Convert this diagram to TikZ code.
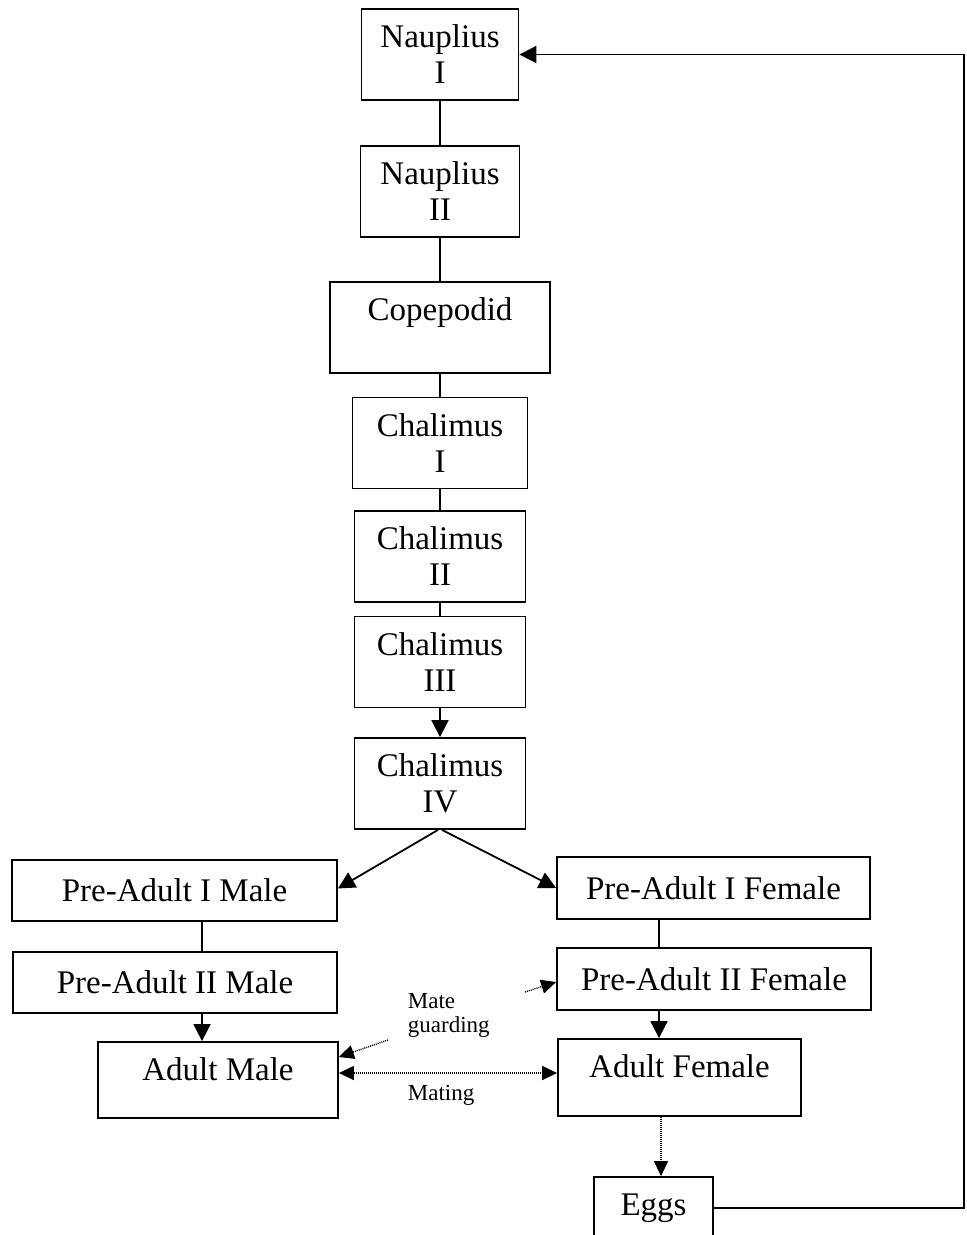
\documentclass[tikz,border=0pt]{standalone}
\usepackage{fontspec}
\setmainfont{Liberation Serif}
\usetikzlibrary{arrows.meta}
\begin{document}
\begin{tikzpicture}[x=1pt,y=-1pt,line width=1.8pt,
  stage/.style={draw,align=center,inner sep=4pt,minimum height=91pt,font=\fontsize{33}{36}\selectfont},
  note/.style={align=left,inner sep=0pt,font=\fontsize{23}{24}\selectfont},
  >={Triangle[length=17pt,width=17pt]},
  dotarr/.style={line width=1.4pt,dash pattern=on 1pt off 1pt,-{Triangle[length=15pt,width=14pt]}}]
\useasboundingbox (0,0) rectangle (967,1235); \clip (0,0) rectangle (967,1235);
\foreach \n/\y/\w/\t in {n1/54.5/157/{Nauplius\\I},n2/191.5/159/{Nauplius\\II},cop/327.5/220/{Copepodid\\\mbox{}},c1/443/175/{Chalimus\\I},c2/556.5/171/{Chalimus\\II},c3/662/171/{Chalimus\\III},c4/783.5/171/{Chalimus\\IV}} {\node[stage,minimum width=\w pt] (\n) at (440,\y) {\t};}
\foreach \a/\b in {n1/n2,n2/cop,cop/c1,c1/c2,c2/c3} {\draw (\a) -- (\b);}
\draw[->] (c3) -- (c4);
% male side
\node[stage,minimum width=325pt,minimum height=61pt] (pm1) at (174.5,890.5) {Pre-Adult I Male};
\node[stage,minimum width=324pt,minimum height=61pt] (pm2) at (175,982.5) {Pre-Adult II Male};
\node[stage,minimum width=240pt,minimum height=76pt,text depth=22pt] (am) at (218,1080) {Adult Male};
% female side
\node[stage,minimum width=313pt,minimum height=62pt] (pf1) at (713.5,888) {Pre-Adult I Female};
\node[stage,minimum width=314pt,minimum height=62pt] (pf2) at (714,979) {Pre-Adult II Female};
\node[stage,minimum width=243pt,minimum height=77pt,text depth=22pt] (af) at (679.5,1077.5) {Adult Female};
\node[stage,minimum width=119pt,minimum height=62pt] (egg) at (653.5,1208) {Eggs};
\draw[->] ([xshift=-2pt]c4.south) -- ([yshift=2pt]pm1.east);
\draw[->] ([xshift=2pt]c4.south) -- (pf1.west);
\draw ([xshift=27.5pt]pm1.south) -- ([xshift=27.5pt]pm1.south |- pm2.north);
\draw[->] ([xshift=27pt]pm2.south) -- ([xshift=27pt]pm2.south |- am.north);
\draw ([xshift=-54.5pt]pf1.south) -- ([xshift=-54.5pt]pf1.south |- pf2.north);
\draw[->] ([xshift=-55pt]pf2.south) -- ([xshift=-55pt]pf2.south |- af.north);
% mating
\node[note,anchor=north west] (mg) at (407,993) {Mate\\guarding};
\node[note,anchor=base west] (mt) at (407,1100) {Mating};
\coordinate (g1) at (388,1040); \coordinate (g2) at (525,992);
\draw[dotarr] (g1) -- ([yshift=23pt]am.east);
\draw[dotarr] (g2) -- ([yshift=-3pt]pf2.west);
\draw[dotarr,{Triangle[length=15pt,width=14pt]}-{Triangle[length=15pt,width=14pt]}] ([yshift=7pt]am.east) -- ([yshift=7pt]am.east -| af.west);
\draw[dotarr] ([xshift=-18.5pt]af.south) -- ([xshift=-18.5pt]af.south |- egg.north);
% back to nauplius
\coordinate (rt) at (964,54.5);
\draw[->] (egg.east) -| (rt) -- (n1.east);
\end{tikzpicture}
\end{document}
